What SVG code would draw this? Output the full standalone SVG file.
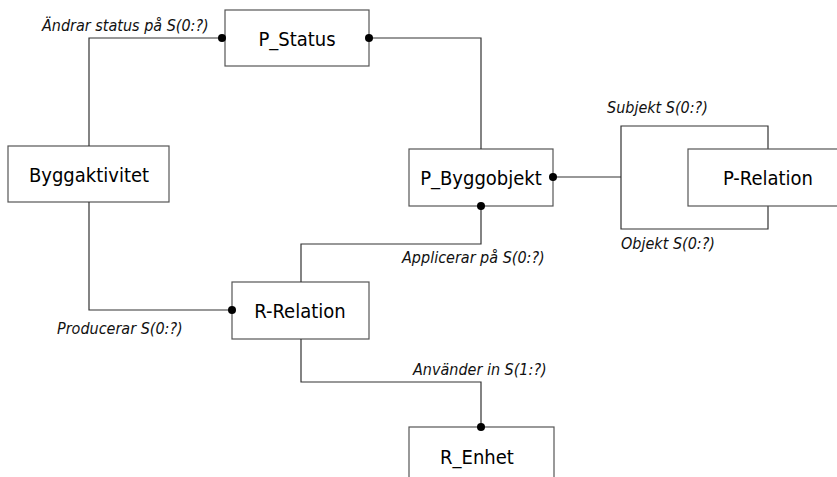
<svg xmlns="http://www.w3.org/2000/svg" width="837" height="477" viewBox="0 0 837 477">
  <style>
    .box { fill: #ffffff; stroke: #555555; stroke-width: 1.2; }
    .name { font-family: "DejaVu Sans Condensed", "DejaVu Sans", sans-serif; font-size: 20px; fill: #000000; text-anchor: middle; }
    .wire { fill: none; stroke: #333333; stroke-width: 1.2; }
    .dot { fill: #000000; }
    .role { font-family: "DejaVu Sans Condensed", "DejaVu Sans", sans-serif; font-size: 16px; font-style: italic; fill: #111111; }
  </style>
  <rect width="837" height="477" fill="#ffffff"/>

  <!-- entities -->
  <g id="p-status">
    <rect class="box" x="225" y="10" width="144" height="56"/>
    <text class="name" x="297" y="46">P_Status</text>
  </g>
  <g id="byggaktivitet">
    <rect class="box" x="8" y="146" width="161" height="56"/>
    <text class="name" x="89" y="182">Byggaktivitet</text>
  </g>
  <g id="p-byggobjekt">
    <rect class="box" x="409" y="149" width="144" height="57"/>
    <text class="name" x="481" y="185">P_Byggobjekt</text>
  </g>
  <g id="r-relation">
    <rect class="box" x="232" y="282" width="137" height="57"/>
    <text class="name" x="300" y="318">R-Relation</text>
  </g>
  <g id="r-enhet">
    <rect class="box" x="409" y="427" width="145" height="60"/>
    <text class="name" x="477" y="464">R_Enhet</text>
  </g>

  <!-- relationships -->
  <g id="connectors">
    <path class="wire" d="M89,146 V38 H222"/>
    <circle class="dot" cx="222" cy="38" r="4"/>

    <path class="wire" d="M369,38 H481 V149"/>
    <circle class="dot" cx="369" cy="38" r="4"/>

    <path class="wire" d="M89,202 V310 H232"/>
    <circle class="dot" cx="232" cy="310" r="4"/>

    <path class="wire" d="M301,282 V244 H481 V206"/>
    <circle class="dot" cx="481" cy="206" r="4"/>

    <path class="wire" d="M553,177 H621"/>
    <path class="wire" d="M768,149 V126 H621 V229 H768 V206"/>
    <circle class="dot" cx="553" cy="177" r="4"/>

    <path class="wire" d="M301,339 V382 H481 V427"/>
    <circle class="dot" cx="481" cy="427" r="4"/>
  </g>

  <!-- recursive relation target, drawn over the bracket -->
  <g id="p-relation">
    <rect class="box" x="688" y="149" width="160" height="57"/>
    <text class="name" x="768" y="185">P-Relation</text>
  </g>

  <!-- role labels -->
  <g id="roles">
    <text class="role" x="42" y="31">Ändrar status på S(0:?)</text>
    <text class="role" x="607" y="113">Subjekt S(0:?)</text>
    <text class="role" x="621" y="249">Objekt S(0:?)</text>
    <text class="role" x="402" y="263">Applicerar på S(0:?)</text>
    <text class="role" x="57" y="334">Producerar S(0:?)</text>
    <text class="role" x="413" y="375">Använder in S(1:?)</text>
  </g>
</svg>
